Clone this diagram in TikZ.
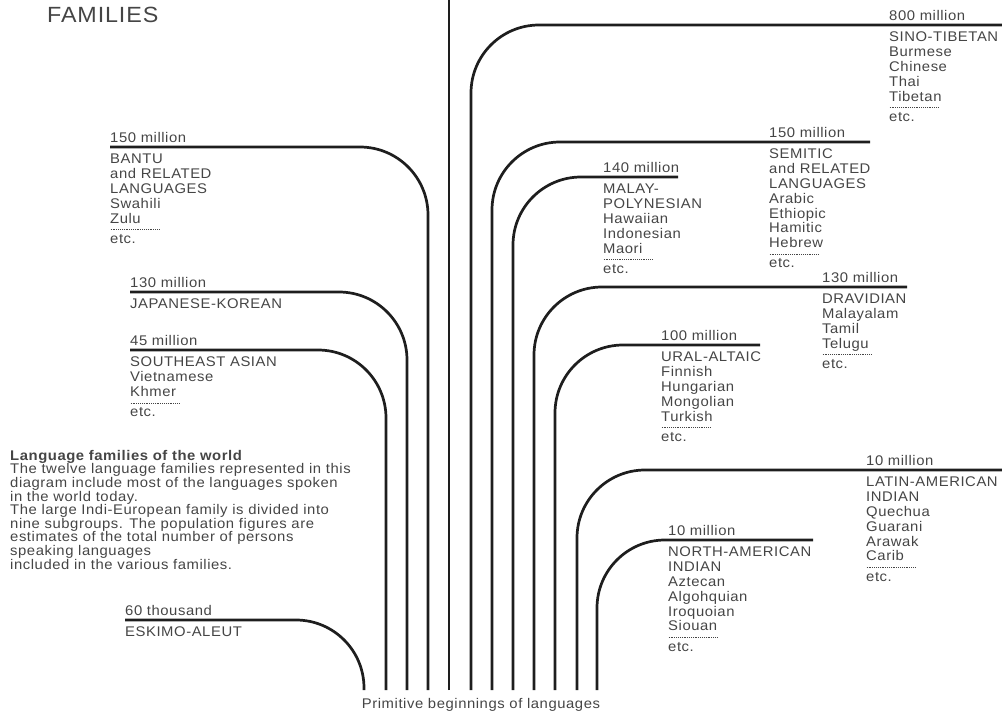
\documentclass[tikz,border=0pt]{standalone}
\usepackage{fontspec}
\setmainfont{Liberation Sans}[FakeStretch=1.06, LetterSpace=4]
\definecolor{ink}{HTML}{1E1E1E}
\definecolor{txgray}{HTML}{454545}
% dotted rule under the last language of a family
\newcommand{\sepdots}{\hbox to 50pt{\xleaders\hbox to 1.8pt{\hss\rule{0.9pt}{0.7pt}\hss}\hfill}}
\newcommand{\etcline}{\\[-8pt]\sepdots\\[-1.5pt]etc.}

\begin{document}
\begin{tikzpicture}[x=1pt, y=-1pt,
  branch/.style={draw=ink, line width=2.7pt, rounded corners=68pt},
  count/.style={font=\fontsize{14}{14.8}\selectfont, text=txgray, anchor=base west, inner sep=0pt},
  langs/.style={font=\fontsize{14}{14.8}\selectfont, text=txgray, anchor=north west, align=left, inner sep=0pt}]

\useasboundingbox (0,0) rectangle (1002,713);

% Title (its first line runs off the top of the page)
\node[font=\fontsize{22}{24}\selectfont, text=txgray, anchor=base west, inner sep=0pt]
  (title) at (47,22) {FAMILIES};

% ================================================================
% Roots: twelve stems side by side at the bottom
% ================================================================
\coordinate (r-eskimo)  at (364,690);
\coordinate (r-seasian) at (386,690);
\coordinate (r-japkor)  at (407,690);
\coordinate (r-bantu)   at (428,690);
\coordinate (r-indo)    at (449,690);
\coordinate (r-sino)    at (471,690);
\coordinate (r-semitic) at (492,690);
\coordinate (r-malay)   at (513,690);
\coordinate (r-dravid)  at (534,690);
\coordinate (r-ural)    at (555,690);
\coordinate (r-latin)   at (577,690);
\coordinate (r-noram)   at (597,690);

\node[font=\fontsize{14}{14.8}\selectfont, text=txgray, anchor=base, inner sep=0pt]
  (roots) at (481,708) {Primitive beginnings of languages};

% ================================================================
% LEFT: branches bending off to the left
% ================================================================
\coordinate (bantu-l)   at (110,147);
\coordinate (japkor-l)  at (130,292);
\coordinate (seasian-l) at (130,350);
\coordinate (eskimo-l)  at (125,620);

\draw[branch] (bantu-l) -| (r-bantu);
\draw[branch] (japkor-l) -| (r-japkor);
\draw[branch] (seasian-l) -| (r-seasian);
\draw[branch] (eskimo-l) -| (r-eskimo);

\node[count] (p-bantu) at (110,142) {150 million};
\node[langs] (l-bantu) at (110,154)
  {BANTU\\and RELATED\\LANGUAGES\\Swahili\\Zulu\etcline};

\node[count] (p-japkor) at (130,287) {130 million};
\node[langs] (l-japkor) at (130,299) {JAPANESE-KOREAN};

\node[count] (p-seasian) at (130,345) {45 million};
\node[langs] (l-seasian) at (130,357)
  {SOUTHEAST ASIAN\\Vietnamese\\Khmer\etcline};

\node[count] (p-eskimo) at (125,615) {60 thousand};
\node[langs] (l-eskimo) at (125,627) {ESKIMO-ALEUT};

% Key to the diagram
\node[font=\fontsize{14}{13.6}\selectfont, text=txgray, anchor=north west, align=left, inner sep=0pt]
  (key) at (10,450)
  {\textbf{Language families of the world}\\
   The twelve language families represented in this\\
   diagram include most of the languages spoken\\
   in the world today.\\
   The large Indi-European family is divided into\\
   nine subgroups. The population figures are\\
   estimates of the total number of persons\\
   speaking languages\\
   included in the various families.};

% ================================================================
% MIDDLE: Indo-European stem runs off the top
% ================================================================
\coordinate (indo-top) at (449,0);
\draw[branch] (r-indo) -- (indo-top);

% ================================================================
% RIGHT: branches bending off to the right
% ================================================================
\coordinate (sino-r)    at (1002,25);
\coordinate (semitic-r) at (870,142);
\coordinate (malay-r)   at (678,177);
\coordinate (dravid-r)  at (907,287);
\coordinate (ural-r)    at (760,345);
\coordinate (latin-r)   at (1002,470);
\coordinate (noram-r)   at (813,540);

\draw[branch] (r-sino) |- (sino-r);
\draw[branch] (r-semitic) |- (semitic-r);
\draw[branch] (r-malay) |- (malay-r);
\draw[branch] (r-dravid) |- (dravid-r);
\draw[branch] (r-ural) |- (ural-r);
\draw[branch] (r-latin) |- (latin-r);
\draw[branch] (r-noram) |- (noram-r);

\node[count] (p-sino) at (889,20) {800 million};
\node[langs] (l-sino) at (889,32)
  {SINO-TIBETAN\\Burmese\\Chinese\\Thai\\Tibetan\etcline};

\node[count] (p-semitic) at (769,137) {150 million};
\node[langs] (l-semitic) at (769,149)
  {SEMITIC\\and RELATED\\LANGUAGES\\Arabic\\Ethiopic\\Hamitic\\Hebrew\etcline};

\node[count] (p-malay) at (603,172) {140 million};
\node[langs] (l-malay) at (603,184)
  {MALAY-\\POLYNESIAN\\Hawaiian\\Indonesian\\Maori\etcline};

\node[count] (p-dravid) at (822,282) {130 million};
\node[langs] (l-dravid) at (822,294)
  {DRAVIDIAN\\Malayalam\\Tamil\\Telugu\etcline};

\node[count] (p-ural) at (661,340) {100 million};
\node[langs] (l-ural) at (661,352)
  {URAL-ALTAIC\\Finnish\\Hungarian\\Mongolian\\Turkish\etcline};

\node[count] (p-latin) at (866,465) {10 million};
\node[langs] (l-latin) at (866,477)
  {LATIN-AMERICAN\\INDIAN\\Quechua\\Guarani\\Arawak\\Carib\etcline};

\node[count] (p-noram) at (668,535) {10 million};
\node[langs] (l-noram) at (668,547)
  {NORTH-AMERICAN\\INDIAN\\Aztecan\\Algohquian\\Iroquoian\\Siouan\etcline};

\end{tikzpicture}
\end{document}
